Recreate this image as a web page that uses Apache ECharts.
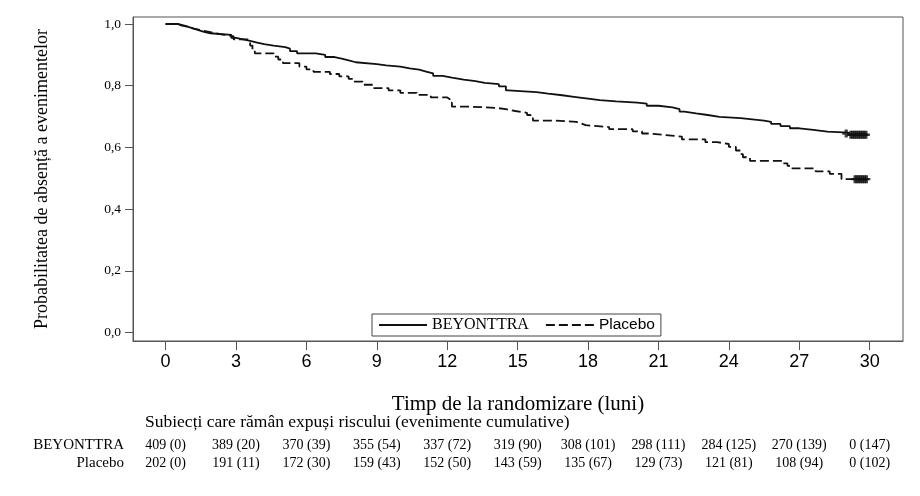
<!DOCTYPE html>
<html>
<head>
<meta charset="utf-8">
<script src="https://cdn.jsdelivr.net/npm/echarts@6/dist/echarts.min.js"></script>
<style>
  html, body { margin: 0; padding: 0; background: #fff; }
  #chart { width: 920px; height: 496px; }
</style>
</head>
<body>
<div id="chart"></div>
<script>
// tick labels
var monthTicks = [0, 3, 6, 9, 12, 15, 18, 21, 24, 27, 30];
var probTicks = [0, 0.2, 0.4, 0.6, 0.8, 1.0];

// Kaplan-Meier steps (month, survival)
var beyTime = [0, 0.55, 0.8, 1.0, 1.2, 1.4, 1.6, 1.9, 2.8, 3.0, 3.3, 3.6, 3.9, 4.2, 4.6, 5.1, 5.3, 5.6,
  6.4, 6.8, 7.2, 7.5, 7.8, 8.1, 9.0, 9.4, 10.0, 10.4, 10.8, 11.1, 11.4, 11.8, 12.2, 12.7, 13.2, 13.6,
  14.2, 14.5, 14.6, 15.8, 16.3, 16.9, 17.4, 18.0, 18.5, 19.2, 20.1, 20.5, 21.0, 21.6, 21.9, 22.1, 22.6,
  23.1, 23.6, 24.5, 25.0, 25.5, 25.8, 26.2, 26.6, 27.0, 27.6, 28.2, 29.1, 29.9];
var beySurv = [1.0, 0.995, 0.99, 0.985, 0.98, 0.975, 0.97, 0.965, 0.955, 0.95, 0.945, 0.94, 0.935, 0.93, 0.925, 0.92, 0.912, 0.905,
  0.9, 0.893, 0.888, 0.882, 0.876, 0.87, 0.866, 0.862, 0.856, 0.852, 0.846, 0.84, 0.832, 0.826, 0.82, 0.815, 0.809, 0.805,
  0.798, 0.785, 0.779, 0.774, 0.769, 0.764, 0.758, 0.753, 0.749, 0.745, 0.742, 0.735, 0.73, 0.724, 0.716, 0.71, 0.705,
  0.699, 0.695, 0.691, 0.687, 0.683, 0.676, 0.669, 0.662, 0.657, 0.651, 0.648, 0.641, 0.641];

var plaTime = [0, 0.5, 0.7, 1.0, 1.2, 1.5, 1.8, 2.1, 2.5, 2.9, 3.5, 3.6, 3.7, 3.8, 4.6, 4.8, 5.0, 5.7, 6.0, 6.3,
  7.0, 7.4, 7.8, 8.0, 8.4, 8.8, 9.5, 10.0, 10.7, 11.3, 12.0, 12.1, 12.2, 13.0, 14.1, 14.5, 14.9, 15.4, 15.55,
  15.65, 16.5, 17.5, 17.7, 17.9, 18.9, 19.9, 20.3, 20.6, 21.3, 22.0, 23.0, 23.5, 24.0, 24.3, 24.5, 24.6, 24.9,
  26.3, 26.5, 26.7, 27.7, 28.3, 28.8, 29.9];
var plaSurv = [1.0, 0.995, 0.99, 0.985, 0.98, 0.975, 0.97, 0.965, 0.96, 0.95, 0.945, 0.93, 0.915, 0.905, 0.894, 0.885, 0.873, 0.862, 0.853, 0.845,
  0.838, 0.83, 0.822, 0.813, 0.803, 0.792, 0.785, 0.777, 0.77, 0.762, 0.757, 0.745, 0.732, 0.728, 0.724, 0.718, 0.712, 0.705, 0.695,
  0.687, 0.683, 0.678, 0.672, 0.666, 0.659, 0.652, 0.645, 0.64, 0.635, 0.626, 0.617, 0.611, 0.602, 0.59, 0.578, 0.568, 0.556,
  0.548, 0.54, 0.532, 0.522, 0.514, 0.497, 0.497];

// censored observations (dense run at the end)
var beyCensorTime = [29.0, 29.2, 29.28, 29.36, 29.44, 29.52, 29.6, 29.68, 29.76, 29.84];
var beyCensorSurv = [0.645, 0.641, 0.641, 0.641, 0.641, 0.641, 0.641, 0.641, 0.641, 0.641];
var plaCensorTime = [29.38, 29.46, 29.54, 29.62, 29.7, 29.78, 29.86];
var plaCensorSurv = [0.497, 0.497, 0.497, 0.497, 0.497, 0.497, 0.497];

// number at risk (cumulative events)
var beyAtRisk = ['409 (0)', '389 (20)', '370 (39)', '355 (54)', '337 (72)', '319 (90)', '308 (101)', '298 (111)', '284 (125)', '270 (139)', '0 (147)'];
var plaAtRisk = ['202 (0)', '191 (11)', '172 (30)', '159 (43)', '152 (50)', '143 (59)', '135 (67)', '129 (73)', '121 (81)', '108 (94)', '0 (102)'];

function zip(a, b) {
  return a.map(function (v, i) { return [v, b[i]]; });
}

var serif = '"Liberation Serif", "DejaVu Serif", serif';
var sans = '"Liberation Sans", Arial, sans-serif';
var plusIcon = 'path://M3,0H7V10H3Z M0,3.5H10V6.5H0Z';

var chart = echarts.init(document.getElementById('chart'));

var option = {
  animation: false,
  grid: {
    left: 133, right: 17, top: 17, bottom: 155,
    show: true, borderColor: '#555', borderWidth: 1
  },
  legend: {
    left: 372, top: 314,
    padding: [3, 6, 3, 6],
    itemWidth: 48, itemHeight: 12, itemGap: 16,
    borderColor: '#444', borderWidth: 1,
    backgroundColor: '#fff',
    data: ['BEYONTTRA', 'Placebo'],
    itemStyle: { opacity: 0 },
    formatter: function (name) {
      return name === 'BEYONTTRA' ? '{s|' + name + '}' : '{a|' + name + '}';
    },
    textStyle: {
      color: '#000',
      rich: {
        s: { fontFamily: serif, fontSize: 16, color: '#000' },
        a: { fontFamily: sans, fontSize: 15.5, color: '#000' }
      }
    }
  },
  xAxis: {
    type: 'value',
    min: -1.39, max: 31.42,
    name: 'Timp de la randomizare (luni)',
    nameLocation: 'middle', nameGap: 53,
    nameTextStyle: { fontFamily: serif, fontSize: 21, color: '#000' },
    axisLine: { show: true, onZero: false, lineStyle: { color: '#555', width: 1 } },
    axisTick: { show: true, length: 9, customValues: monthTicks, lineStyle: { color: '#555' } },
    axisLabel: { customValues: monthTicks, margin: 12, fontFamily: sans, fontSize: 18, color: '#000' },
    splitLine: { show: false }
  },
  yAxis: {
    type: 'value',
    min: -0.0276, max: 1.0227,
    name: 'Probabilitatea de absență a evenimentelor',
    nameLocation: 'middle', nameGap: 82, nameRotate: 90,
    nameTextStyle: { fontFamily: serif, fontSize: 18, color: '#000' },
    axisLine: { show: true, onZero: false, lineStyle: { color: '#555', width: 1 } },
    axisTick: { show: true, length: 8, customValues: probTicks, lineStyle: { color: '#555' } },
    axisLabel: {
      customValues: probTicks, margin: 12, fontFamily: serif, fontSize: 13.5, color: '#000',
      formatter: function (v) { return v.toFixed(1).replace('.', ','); }
    },
    splitLine: { show: false }
  },
  series: [
    {
      name: 'BEYONTTRA', type: 'line', step: 'end',
      symbol: 'none', showSymbol: false,
      data: zip(beyTime, beySurv),
      itemStyle: { color: '#111' },
      lineStyle: { color: '#111', width: 1.8, type: 'solid' },
      z: 3
    },
    {
      name: 'Placebo', type: 'line', step: 'end',
      symbol: 'none', showSymbol: false,
      data: zip(plaTime, plaSurv),
      itemStyle: { color: '#111' },
      lineStyle: { color: '#111', width: 1.8, type: [9, 4] },
      z: 3
    },
    {
      name: 'censor-bey', type: 'scatter',
      symbol: plusIcon, symbolSize: 8,
      data: zip(beyCensorTime, beyCensorSurv),
      itemStyle: { color: '#111' },
      z: 4
    },
    {
      name: 'censor-pla', type: 'scatter',
      symbol: plusIcon, symbolSize: 8,
      data: zip(plaCensorTime, plaCensorSurv),
      itemStyle: { color: '#111' },
      z: 4
    }
  ]
};

chart.setOption(option);

// number-at-risk table placed under the x axis ticks
var graphics = [
  {
    type: 'text', left: 145, top: 413,
    style: { text: 'Subiecți care rămân expuși riscului (evenimente cumulative)', font: '17.5px ' + serif, fill: '#000' }
  },
  {
    type: 'text', x: 124, y: 445,
    style: { text: 'BEYONTTRA', font: '15px ' + serif, fill: '#000', align: 'right', verticalAlign: 'middle' }
  },
  {
    type: 'text', x: 124, y: 463,
    style: { text: 'Placebo', font: '15px ' + serif, fill: '#000', align: 'right', verticalAlign: 'middle' }
  }
];
monthTicks.forEach(function (t, i) {
  var px = chart.convertToPixel({ gridIndex: 0 }, [t, 0])[0];
  graphics.push({
    type: 'text', x: px, y: 445,
    style: { text: beyAtRisk[i], font: '14px ' + serif, fill: '#000', align: 'center', verticalAlign: 'middle' }
  });
  graphics.push({
    type: 'text', x: px, y: 463,
    style: { text: plaAtRisk[i], font: '14px ' + serif, fill: '#000', align: 'center', verticalAlign: 'middle' }
  });
});
chart.setOption({ graphic: graphics });
</script>
</body>
</html>
